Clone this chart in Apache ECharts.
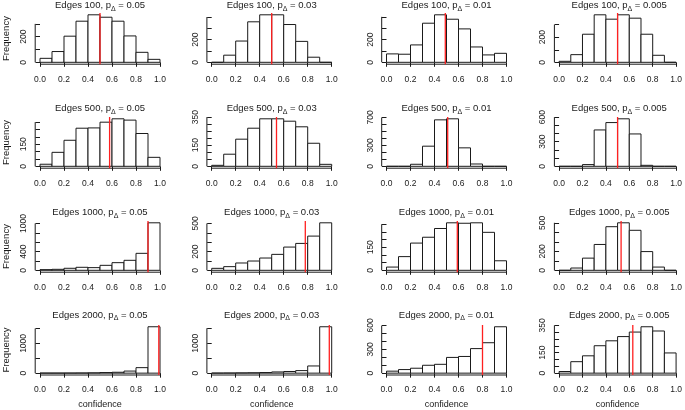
<!DOCTYPE html>
<html><head><meta charset="utf-8">
<script src="https://cdn.jsdelivr.net/npm/echarts@6/dist/echarts.min.js"></script>
<style>html,body{margin:0;padding:0;background:#fff}#c{width:685px;height:410px}</style>
</head><body><div id="c"></div>
<script>
// ---------- data ----------
const breaks = [0, 0.1, 0.2, 0.3, 0.4, 0.5, 0.6, 0.7, 0.8, 0.9, 1.0];
const edges = [100, 500, 1000, 2000];
const pDelta = ['0.05', '0.03', '0.01', '0.005'];
const xTicks = [0, 0.2, 0.4, 0.6, 0.8, 1.0];
const xTickLabels = ['0.0', '0.2', '0.4', '0.6', '0.8', '1.0'];

// bin counts, one array per panel (10 bins of width 0.1)
const counts_e100_p050 = [31, 84, 204, 321, 371, 352, 321, 206, 78, 23];
const counts_e100_p030 = [0, 63, 188, 358, 420, 420, 334, 185, 45, 0];
const counts_e100_p010 = [74, 71, 153, 344, 418, 379, 294, 135, 65, 79];
const counts_e100_p005 = [8, 61, 224, 379, 344, 379, 352, 224, 56, 0];

const counts_e500_p050 = [14, 95, 177, 259, 261, 300, 323, 314, 223, 61];
const counts_e500_p030 = [7, 86, 193, 271, 338, 338, 321, 281, 164, 14];
const counts_e500_p010 = [0, 0, 29, 288, 665, 680, 264, 33, 0, 0];
const counts_e500_p005 = [0, 0, 21, 444, 534, 580, 395, 12, 0, 0];

const counts_e1000_p050 = [14, 21, 43, 64, 57, 106, 163, 213, 362, 1014];
const counts_e1000_p030 = [21, 39, 78, 99, 131, 170, 248, 287, 365, 507];
const counts_e1000_p010 = [21, 89, 177, 215, 272, 309, 306, 309, 247, 62];
const counts_e1000_p005 = [0, 24, 128, 272, 459, 500, 421, 197, 34, 0];

const counts_e2000_p050 = [2, 2, 3, 5, 10, 20, 30, 70, 185, 1560];
const counts_e2000_p030 = [2, 4, 8, 12, 20, 40, 55, 85, 240, 1550];
const counts_e2000_p010 = [25, 45, 62, 99, 111, 198, 210, 309, 383, 584];
const counts_e2000_p005 = [12, 84, 127, 201, 237, 268, 301, 340, 309, 148];

// red vertical reference lines (per row, one per p value)
const redLine_e100 = [0.5, 0.5, 0.49, 0.5];
const redLine_e500 = [0.58, 0.54, 0.51, 0.5];
const redLine_e1000 = [0.9, 0.78, 0.59, 0.53];
const redLine_e2000 = [0.99, 0.98, 0.8, 0.63];

// y-axis ticks and the tick labels that are printed
const yTicks_e100 = [[0,100,200,300],[0,100,200,300,400],[0,100,200,300,400],[0,100,200,300]];
const yLabels_e100 = [[0,200],[0,200],[0,200],[0,200]];
const yTicks_e500 = [[0,50,100,150,200,250,300],[0,50,100,150,200,250,300,350],[0,100,200,300,400,500,600,700],[0,100,200,300,400,500,600]];
const yLabels_e500 = [[0,150],[0,150,350],[0,300,700],[0,300,600]];
const yTicks_e1000 = [[0,200,400,600,800,1000],[0,100,200,300,400,500],[0,50,100,150,200,250,300],[0,100,200,300,400,500]];
const yLabels_e1000 = [[0,400,1000],[0,200,500],[0,150],[0,200,500]];
const yTicks_e2000 = [[0,500,1000,1500],[0,500,1000,1500],[0,100,200,300,400,500,600],[0,50,100,150,200,250,300,350]];
const yLabels_e2000 = [[0,1000],[0,1000],[0,300,600],[0,150,350]];

// ---------- assembly ----------
const countsByRow = [
  [counts_e100_p050, counts_e100_p030, counts_e100_p010, counts_e100_p005],
  [counts_e500_p050, counts_e500_p030, counts_e500_p010, counts_e500_p005],
  [counts_e1000_p050, counts_e1000_p030, counts_e1000_p010, counts_e1000_p005],
  [counts_e2000_p050, counts_e2000_p030, counts_e2000_p010, counts_e2000_p005]
];
const redByRow = [redLine_e100, redLine_e500, redLine_e1000, redLine_e2000];
const yTicksByRow = [yTicks_e100, yTicks_e500, yTicks_e1000, yTicks_e2000];
const yLabelsByRow = [yLabels_e100, yLabels_e500, yLabels_e1000, yLabels_e2000];

const colX0 = [40, 211.7, 386.5, 559.2];
const rowBase = [62.3, 166.3, 270.3, 374.3];
const titleY = [5.5, 108.5, 212.5, 315];
const unitW = 120, plotH = 51.3;
const font = '"Liberation Sans", Arial, Helvetica, sans-serif';
const ink = '#1a1a1a';

const grids = [], xAxes = [], yAxes = [], series = [], graphics = [];

for (let ri = 0; ri < 4; ri++) {
  for (let ci = 0; ci < 4; ci++) {
    const idx = ri * 4 + ci;
    const counts = countsByRow[ri][ci];
    const M = Math.max(...counts);
    const yMin = -0.04 * M, yMax = 1.04 * M;
    const yT = yTicksByRow[ri][ci];
    const yL = yLabelsByRow[ri][ci];
    grids.push({
      left: colX0[ci] - 0.04 * unitW,
      top: rowBase[ri] - (1.04 / 1.08) * plotH,
      width: 1.08 * unitW,
      height: plotH
    });
    xAxes.push({
      type: 'value', gridIndex: idx, min: -0.04, max: 1.04,
      axisLine: { show: false }, splitLine: { show: false },
      axisTick: { show: true, customValues: xTicks, length: 4.5, lineStyle: { color: ink, width: 1 } },
      axisLabel: { show: true, customValues: xTicks, margin: 10.5, hideOverlap: false,
        formatter: v => xTickLabels[xTicks.findIndex(t => Math.abs(t - v) < 1e-9)],
        fontSize: 8.5, color: ink, fontFamily: font },
      name: ri === 3 ? 'confidence' : '', nameLocation: 'middle', nameGap: 25,
      nameTextStyle: { fontSize: 9, color: ink, fontFamily: font }
    });
    yAxes.push({
      type: 'value', gridIndex: idx, min: yMin, max: yMax,
      axisLine: { show: false }, splitLine: { show: false },
      axisTick: { show: true, customValues: yT, length: 4.5, lineStyle: { color: ink, width: 1 } },
      axisLabel: { show: true, customValues: yL, rotate: 90, margin: 7, hideOverlap: false,
        formatter: v => String(Math.round(v)),
        fontSize: 8.5, color: ink, fontFamily: font },
      name: ci === 0 ? 'Frequency' : '', nameLocation: 'middle', nameGap: 24,
      nameTextStyle: { fontSize: 9.5, color: ink, fontFamily: font }
    });
    // histogram bars
    series.push({
      type: 'custom', xAxisIndex: idx, yAxisIndex: idx, silent: true,
      data: counts.map((c, i) => [breaks[i], breaks[i + 1], c]),
      encode: { x: [0, 1], y: 2 },
      renderItem: (params, api) => {
        const p0 = api.coord([api.value(0), 0]);
        const p1 = api.coord([api.value(1), api.value(2)]);
        return { type: 'rect',
          shape: { x: p0[0], y: p1[1], width: p1[0] - p0[0], height: p0[1] - p1[1] },
          style: { fill: '#fff', stroke: ink, lineWidth: 1 } };
      }
    });
    // axis lines (R style: from first to last tick)
    series.push({
      type: 'line', xAxisIndex: idx, yAxisIndex: idx, silent: true, clip: false,
      symbol: 'none', animation: false, lineStyle: { color: ink, width: 1 },
      data: [[-0.04, yT[0]], [-0.04, yT[yT.length - 1]]]
    });
    series.push({
      type: 'line', xAxisIndex: idx, yAxisIndex: idx, silent: true, clip: false,
      symbol: 'none', animation: false, lineStyle: { color: ink, width: 1 },
      data: [[xTicks[0], yMin], [xTicks[xTicks.length - 1], yMin]]
    });
    // red reference line across the plot region
    const rv = redByRow[ri][ci];
    series.push({
      type: 'line', xAxisIndex: idx, yAxisIndex: idx, silent: true, clip: false,
      symbol: 'none', animation: false, z: 5, lineStyle: { color: '#ff2020', width: 1.3 },
      data: [[rv, yMin], [rv, yMax]]
    });
    // panel title
    graphics.push({
      type: 'text', x: colX0[ci] + unitW / 2, y: titleY[ri], silent: true,
      style: {
        text: '{a|Edges ' + edges[ri] + ', p}{s|\u0394}{a| = ' + pDelta[ci] + '}',
        align: 'center', verticalAlign: 'middle', fill: ink,
        rich: {
          a: { fontSize: 9.5, fontFamily: font, fill: ink, lineHeight: 13.5 },
          s: { fontSize: 7, fontFamily: font, fill: ink, lineHeight: 7, verticalAlign: 'bottom' }
        }
      }
    });
  }
}

const chart = echarts.init(document.getElementById('c'), null, { renderer: 'canvas', width: 685, height: 410 });
chart.setOption({
  backgroundColor: '#fff',
  animation: false,
  grid: grids, xAxis: xAxes, yAxis: yAxes, series: series, graphic: graphics
});
</script>
</body></html>
